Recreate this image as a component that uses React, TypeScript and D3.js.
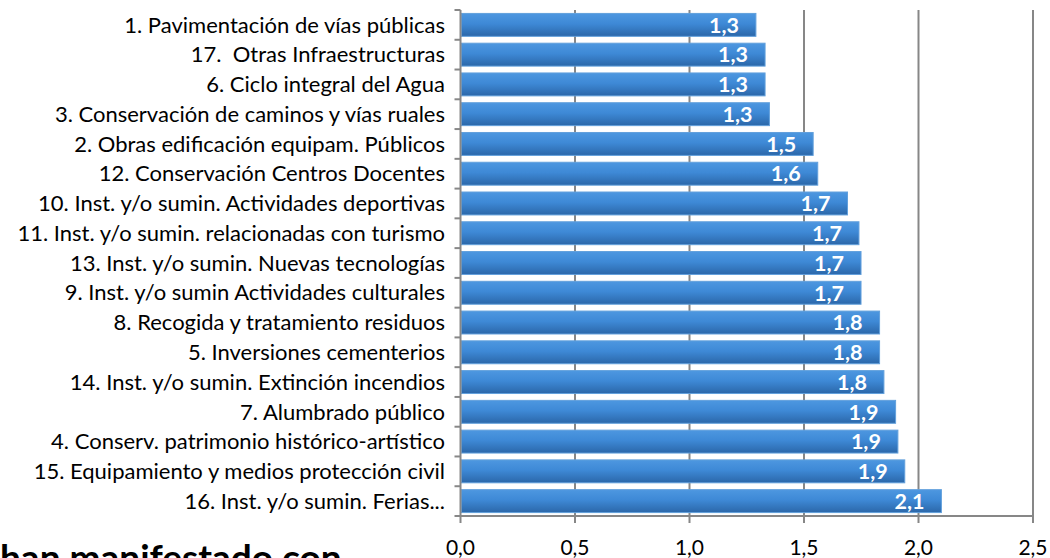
import React from "react";
import * as d3 from "d3";

const categories: string[] = [
  "1. Pavimentación de vías públicas",
  "17.  Otras Infraestructuras",
  "6. Ciclo integral del Agua",
  "3. Conservación de caminos y vías ruales",
  "2. Obras edificación equipam. Públicos",
  "12. Conservación Centros Docentes",
  "10. Inst. y/o sumin. Actividades deportivas",
  "11. Inst. y/o sumin. relacionadas con turismo",
  "13. Inst. y/o sumin. Nuevas tecnologías",
  "9. Inst. y/o sumin Actividades culturales",
  "8. Recogida y tratamiento residuos",
  "5. Inversiones cementerios",
  "14. Inst. y/o sumin. Extinción incendios",
  "7. Alumbrado público",
  "4. Conserv. patrimonio histórico-artístico",
  "15. Equipamiento y medios protección civil",
  "16. Inst. y/o sumin. Ferias...",
];

const values: number[] = [
  1.29, 1.33, 1.33, 1.349, 1.54, 1.56, 1.69, 1.74, 1.749, 1.749, 1.83, 1.83,
  1.849, 1.9, 1.91, 1.94, 2.1,
];

const xTicks: number[] = [0, 0.5, 1, 1.5, 2, 2.5];
const footerText = "han manifestado con";

const W = 1050;
const H = 558;
const FONT = "Lato, 'Liberation Sans', Arial, sans-serif";

const fmt = (v: number) => d3.format(".1f")(v).replace(".", ",");

export default function App() {
  const x = d3.scaleLinear().domain([0, 2.5]).range([460.5, 1033]);
  const y = d3
    .scaleBand<string>()
    .domain(categories)
    .range([10, 516])
    .paddingInner(0.23)
    .paddingOuter(0.115);
  const [y0, y1] = y.range();
  const step = y.step();
  const bw = y.bandwidth();
  const axisColor = "#878787";

  return (
    <svg
      width={W}
      height={H}
      style={{ position: "absolute", left: 0, top: 0, display: "block", background: "#fff" }}
    >
      <defs>
        <linearGradient id="barGrad" x1="0" y1="0" x2="0" y2="1">
          <stop offset="0" stopColor="#4D97E0" />
          <stop offset="0.45" stopColor="#3E89D6" />
          <stop offset="1" stopColor="#2B67A9" />
        </linearGradient>
      </defs>

      {/* gridlines */}
      {xTicks.slice(1).map((t) => (
        <line
          key={"g" + t}
          x1={x(t)}
          x2={x(t)}
          y1={y0}
          y2={y1}
          stroke={axisColor}
          strokeWidth={2}
        />
      ))}

      {/* bars */}
      {categories.map((c, i) => (
        <rect
          key={"b" + i}
          x={x(0) + 1}
          y={y(c)!}
          width={x(values[i]) - x(0) - 1}
          height={bw}
          fill="url(#barGrad)"
          stroke="#62A0DC"
          strokeWidth={1}
        />
      ))}

      {/* data labels */}
      {categories.map((c, i) => (
        <text
          key={"v" + i}
          x={x(values[i]) - 17}
          y={y(c)! + bw / 2}
          dy="0.36em"
          textAnchor="end"
          fill="#fff"
          fontFamily={FONT}
          fontWeight="bold"
          fontSize={21.5}
        >
          {fmt(values[i])}
        </text>
      ))}

      {/* category axis */}
      <line x1={x(0)} x2={x(0)} y1={y0} y2={y1 + 1} stroke={axisColor} strokeWidth={2} />
      {d3.range(categories.length + 1).map((k) => (
        <line
          key={"ct" + k}
          x1={x(0) - 6}
          x2={x(0)}
          y1={y0 + k * step}
          y2={y0 + k * step}
          stroke={axisColor}
          strokeWidth={2}
        />
      ))}
      {categories.map((c) => (
        <text
          key={"c" + c}
          x={445}
          y={y(c)! + bw / 2}
          dy="0.35em"
          textAnchor="end"
          fill="#000"
          fontFamily={FONT}
          fontSize={22}
          style={{ whiteSpace: "pre" }}
        >
          {c}
        </text>
      ))}

      {/* value axis */}
      <line x1={x(0) - 1} x2={x(2.5) + 1} y1={y1} y2={y1} stroke={axisColor} strokeWidth={2} />
      {xTicks.map((t) => (
        <g key={"xt" + t}>
          <line x1={x(t)} x2={x(t)} y1={y1} y2={y1 + 7} stroke={axisColor} strokeWidth={2} />
          <text
            x={x(t)}
            y={555}
            textAnchor="middle"
            fill="#000"
            fontFamily={FONT}
            fontSize={21}
          >
            {fmt(t)}
          </text>
        </g>
      ))}

      {/* cut-off caption, as in the reference */}
      <text
        x={0}
        y={571}
        fill="#000"
        fontFamily={FONT}
        fontWeight="bold"
        fontSize={37}
      >
        {footerText}
      </text>
    </svg>
  );
}
